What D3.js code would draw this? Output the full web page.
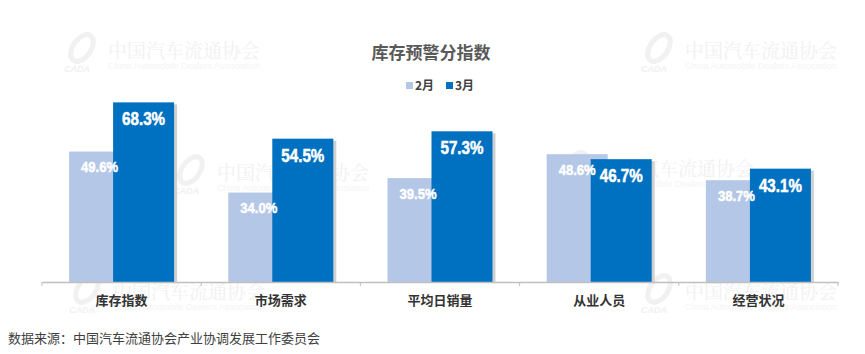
<!DOCTYPE html>
<html>
<head>
<meta charset="utf-8">
<script src="https://cdn.jsdelivr.net/npm/d3@7"></script>
<style>
  body { margin: 0; background: #fff; }
  svg { display: block; font-family: "Noto Sans CJK SC", "Liberation Sans", sans-serif; }
</style>
</head>
<body>
<div id="chart"></div>
<script>
const categories = ["库存指数", "市场需求", "平均日销量", "从业人员", "经营状况"];
const seriesNames = ["2月", "3月"];
const feb = [49.6, 34.0, 39.5, 48.6, 38.7];
const mar = [68.3, 54.5, 57.3, 46.7, 43.1];
const colors = ["#b4c7e7", "#0070c0"];

const width = 865, height = 354;
const svg = d3.select("#chart").append("svg")
    .attr("width", width)
    .attr("height", height);

// watermarks
const marks = [[108, 50], [685, 50], [217, 172], [602, 168], [113, 291], [685, 291]];
marks.forEach(([x, y]) => {
    const g = svg.append("g").attr("transform", `translate(${x},${y})`).attr("opacity", 0.55);
    g.append("ellipse").attr("cx", -26).attr("cy", -2).attr("rx", 9).attr("ry", 15)
        .attr("transform", "rotate(35,-26,-2)")
        .attr("fill", "none").attr("stroke", "#e6e6e6").attr("stroke-width", 5);
    g.append("text").attr("x", -44).attr("y", 22).text("CADA")
        .attr("font-size", 9).attr("font-style", "italic").attr("font-weight", "bold")
        .attr("fill", "#e6e6e6").style("font-family", "Liberation Sans");
    g.append("text").attr("x", 0).attr("y", 8).text("中国汽车流通协会")
        .attr("font-size", 19).attr("fill", "#e6e6e6")
        .style("font-family", "'Noto Serif CJK SC', 'Noto Sans CJK SC'");
    g.append("text").attr("x", 0).attr("y", 19).text("China Automobile Dealers Association")
        .attr("font-size", 9).attr("fill", "#ececec")
        .style("font-family", "Liberation Sans");
});

const x0 = d3.scaleBand().domain(categories).range([42, 838]).paddingInner(0).paddingOuter(0);
const y = d3.scaleLinear().domain([0, 80]).range([282, 71.6]);

const barW = 61, overlap = 17;
const groupW = barW * 2 - overlap;

const data = categories.map((c, i) => ({ cat: c, vals: [feb[i], mar[i]] }));

const groups = svg.append("g").selectAll("g")
    .data(data).enter().append("g")
    .attr("transform", d => `translate(${x0(d.cat) + x0.bandwidth() / 2 - groupW / 2},0)`);

// light bars
groups.append("rect")
    .attr("x", 0).attr("y", d => y(d.vals[0]))
    .attr("width", barW).attr("height", d => y(0) - y(d.vals[0]))
    .attr("fill", colors[0]);

// shadow for dark bars
groups.append("rect")
    .attr("x", barW - overlap + 3).attr("y", d => y(d.vals[1]) + 2)
    .attr("width", barW).attr("height", d => y(0) - y(d.vals[1]) - 2)
    .attr("fill", "#d0d0d0");

groups.append("rect")
    .attr("x", barW - overlap).attr("y", d => y(d.vals[1]))
    .attr("width", barW).attr("height", d => y(0) - y(d.vals[1]))
    .attr("fill", colors[1]);

// value labels, squeezed to look like a condensed face
const labelSize = [15.5, 17.5], labelLen = [37, 43], labelDy = [20.5, 23];
[0, 1].forEach(k => {
    groups.append("text")
        .attr("x", k * (barW - overlap) + barW / 2)
        .attr("y", d => y(d.vals[k]) + labelDy[k])
        .attr("text-anchor", "middle")
        .attr("fill", "#fff")
        .attr("stroke", "#fff")
        .attr("stroke-width", 0.5)
        .attr("font-weight", "bold")
        .attr("font-size", labelSize[k])
        .attr("textLength", labelLen[k])
        .attr("lengthAdjust", "spacingAndGlyphs")
        .style("font-family", "'Liberation Sans', Arial, sans-serif")
        .text(d => d.vals[k].toFixed(1) + "%");
});

// axis
const axis = d3.axisBottom(x0).tickSize(0).tickPadding(14);
const ag = svg.append("g").attr("transform", `translate(0,${y(0)})`).call(axis);
ag.select(".domain").attr("stroke", "#bfbfbf").attr("stroke-width", 1.5);
ag.selectAll("text")
    .attr("font-size", 13).attr("font-weight", "bold").attr("fill", "#333")
    .style("font-family", "'Noto Sans CJK SC'");
// boundary ticks
ag.selectAll(".bound").data(d3.range(6)).enter().append("line")
    .attr("x1", i => 42 + i * x0.bandwidth()).attr("x2", i => 42 + i * x0.bandwidth())
    .attr("y1", 0).attr("y2", 4).attr("stroke", "#bfbfbf");

// title
svg.append("text").attr("x", 431).attr("y", 59).attr("text-anchor", "middle")
    .attr("font-size", 17).attr("font-weight", "bold").attr("fill", "#595959")
    .text("库存预警分指数");

// legend
const leg = svg.append("g");
const legX = [406, 446];
seriesNames.forEach((n, i) => {
    leg.append("rect").attr("x", legX[i]).attr("y", 82).attr("width", 7).attr("height", 7).attr("fill", colors[i]);
    leg.append("text").attr("x", legX[i] + 9).attr("y", 90).text(n)
        .attr("font-size", 12).attr("font-weight", "bold").attr("fill", "#404040");
});

// source
svg.append("text").attr("x", 8).attr("y", 343).text("数据来源：中国汽车流通协会产业协调发展工作委员会")
    .attr("font-size", 13).attr("fill", "#404040");
</script>
</body>
</html>
